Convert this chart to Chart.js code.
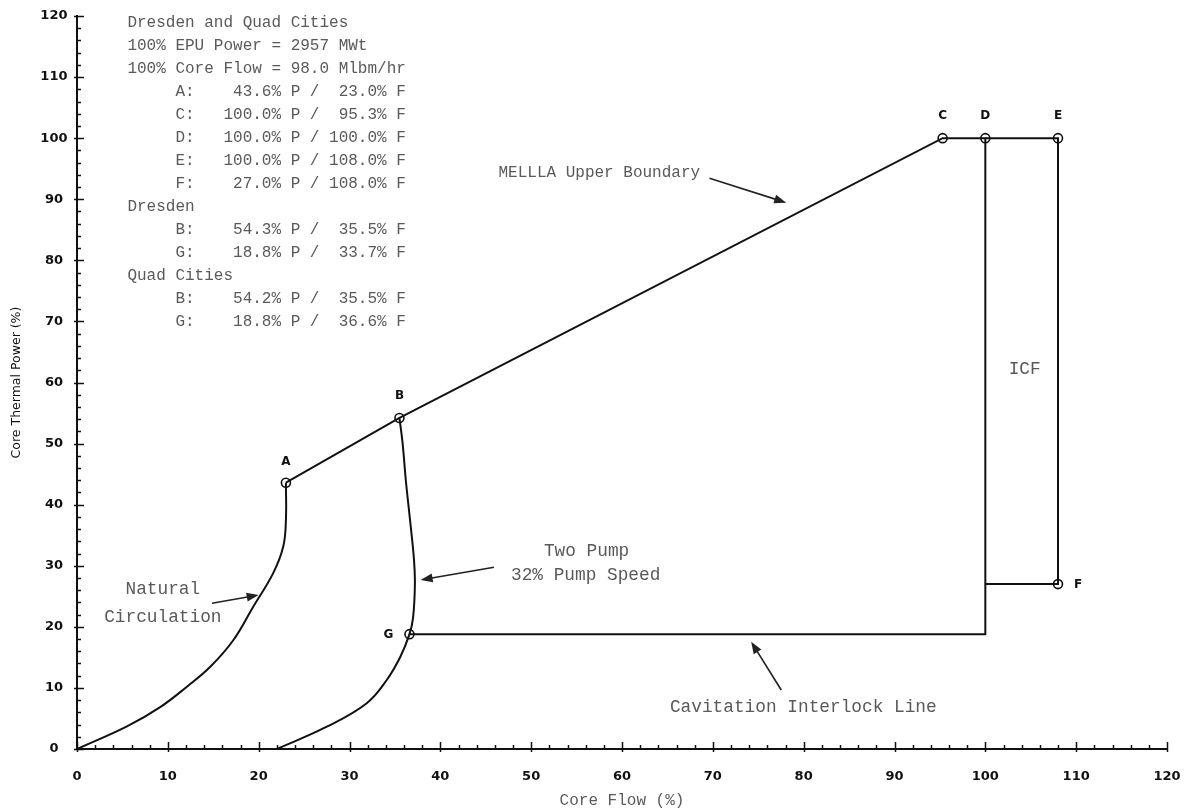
<!DOCTYPE html>
<html>
<head>
<meta charset="utf-8">
<script src="https://cdn.jsdelivr.net/npm/chart.js@4.4.1/dist/chart.umd.min.js"></script>
<style>
  html, body { margin: 0; padding: 0; background: #fff; }
  canvas { display: block; }
</style>
</head>
<body>
<canvas id="map" width="1192" height="812"></canvas>
<script>
// State points shared by both plants: core thermal power (%) and core flow (%)
const commonNames = ['A', 'C', 'D', 'E', 'F'];
const commonPower = [43.6, 100.0, 100.0, 100.0, 27.0];
const commonFlow = [23.0, 95.3, 100.0, 108.0, 108.0];

// Plant-specific state points
const dresdenNames = ['B', 'G'];
const dresdenPower = [54.3, 18.8];
const dresdenFlow = [35.5, 33.7];
const quadNames = ['B', 'G'];
const quadPower = [54.2, 18.8];
const quadFlow = [35.5, 36.6];

// Natural circulation curve from the origin toward point A
const ncFlow = [0, 5.5, 9.2, 12.1, 14.7, 17.2, 19.4, 21.6, 22.7, 23.0];
const ncPower = [0, 3.7, 6.9, 10.2, 13.5, 17.8, 23.3, 28.8, 33.1, 37.5];

// Two pump / 32% pump speed curve: below point G, then between G and B
const tpLowFlow = [22.0, 27.5, 31.9, 34.1, 35.6];
const tpLowPower = [0, 3.65, 7.5, 11.3, 15.1];
const tpHighFlow = [37.0, 37.2, 37.1, 36.7, 36.2, 35.85];
const tpHighPower = [21.5, 27.0, 31.0, 37.0, 44.0, 50.0];

// Axis tick labels
const flowTickLabels = [0, 10, 20, 30, 40, 50, 60, 70, 80, 90, 100, 110, 120];
const powerTickLabels = [0, 10, 20, 30, 40, 50, 60, 70, 80, 90, 100, 110, 120];

// Header text
const headerLines = ['Dresden and Quad Cities', '100% EPU Power = 2957 MWt', '100% Core Flow = 98.0 Mlbm/hr'];

// ---- helpers -------------------------------------------------------------
const pt = (names, power, flow, n) => {
  const i = names.indexOf(n);
  return { x: flow[i], y: power[i] };
};
const A = pt(commonNames, commonPower, commonFlow, 'A');
const C = pt(commonNames, commonPower, commonFlow, 'C');
const D = pt(commonNames, commonPower, commonFlow, 'D');
const E = pt(commonNames, commonPower, commonFlow, 'E');
const F = pt(commonNames, commonPower, commonFlow, 'F');
const B = pt(quadNames, quadPower, quadFlow, 'B');
const G = pt(quadNames, quadPower, quadFlow, 'G');

const zip = (xs, ys) => xs.map((v, i) => ({ x: v, y: ys[i] }));

const ncData = zip(ncFlow, ncPower).concat([A]);
const tpData = zip(tpLowFlow, tpLowPower).concat([G], zip(tpHighFlow, tpHighPower), [B]);
const boundaryData = [A, B, C, D, { x: D.x, y: G.y }, G];
const icfData = [D, E, F, { x: D.x, y: F.y }];

const markerNames = ['A', 'B', 'C', 'D', 'E', 'F', 'G'];
const markerData = [A, B, C, D, E, F, G];

const fmtRow = (n, p, f) =>
  '     ' + n + ':' + (p.toFixed(1) + '%').padStart(9) + ' P / ' + (f.toFixed(1) + '%').padStart(6) + ' F';

const textLines = headerLines.slice();
commonNames.forEach((n, i) => textLines.push(fmtRow(n, commonPower[i], commonFlow[i])));
textLines.push('Dresden');
dresdenNames.forEach((n, i) => textLines.push(fmtRow(n, dresdenPower[i], dresdenFlow[i])));
textLines.push('Quad Cities');
quadNames.forEach((n, i) => textLines.push(fmtRow(n, quadPower[i], quadFlow[i])));

// ---- layout of text and arrows (in axis units) ---------------------------
const textBlock = { x: 5.55, y: 118.97, step: 23, font: '16px "Liberation Mono"', color: '#5a5a5a' };
const notes = [
  { text: 'MELLLA Upper Boundary', x: 57.5, y: 94.35, size: 16 },
  { text: 'Two Pump', x: 56.1, y: 32.3, size: 17.8 },
  { text: '32% Pump Speed', x: 56.0, y: 28.5, size: 17.8 },
  { text: 'Natural', x: 9.45, y: 26.2, size: 17.8 },
  { text: 'Circulation', x: 9.45, y: 21.5, size: 17.8 },
  { text: 'Cavitation Interlock Line', x: 79.96, y: 6.83, size: 17.8 },
  { text: 'ICF', x: 104.33, y: 62.2, size: 17.8 }
];
const arrows = [
  { from: [69.63, 93.43], to: [78.08, 89.44] },
  { from: [45.91, 29.75], to: [37.83, 27.67] },
  { from: [77.53, 9.66], to: [74.22, 17.57] },
  { from: [14.86, 23.85], to: [20.0, 25.21] }
];
const labelOffsets = {
  A: [0, -21], B: [0, -22], C: [0, -22], D: [0, -22], E: [0, -22], F: [20, 1], G: [-21, 1]
};
const tickStyle = { majorIn: 7, majorOut: 3, minorIn: 4, width: 1.5, color: '#111' };

function drawArrow(ctx, x1, y1, x2, y2) {
  const a = Math.atan2(y2 - y1, x2 - x1);
  const L = 12, W = 4.5;
  ctx.beginPath();
  ctx.moveTo(x1, y1);
  ctx.lineTo(x2 - L * 0.7 * Math.cos(a), y2 - L * 0.7 * Math.sin(a));
  ctx.stroke();
  ctx.beginPath();
  ctx.moveTo(x2, y2);
  ctx.lineTo(x2 - L * Math.cos(a) + W * Math.sin(a), y2 - L * Math.sin(a) - W * Math.cos(a));
  ctx.lineTo(x2 - L * Math.cos(a) - W * Math.sin(a), y2 - L * Math.sin(a) + W * Math.cos(a));
  ctx.closePath();
  ctx.fill();
}

const overlay = {
  id: 'overlay',
  afterDraw(chart) {
    const { ctx, chartArea: area, scales: { x, y } } = chart;
    ctx.save();

    // inward tick marks on both axes
    ctx.strokeStyle = tickStyle.color;
    ctx.lineWidth = tickStyle.width;
    ctx.beginPath();
    y.ticks.forEach(t => {
      const v = Math.round(t.value);
      const py = Math.round(y.getPixelForValue(v)) + 0.5;
      const major = v % 10 === 0;
      ctx.moveTo(area.left - (major ? tickStyle.majorOut : 0), py);
      ctx.lineTo(area.left + (major ? tickStyle.majorIn : tickStyle.minorIn), py);
    });
    x.ticks.forEach(t => {
      const v = Math.round(t.value);
      const px = Math.round(x.getPixelForValue(v)) + 0.5;
      const major = v % 10 === 0;
      ctx.moveTo(px, area.bottom + (major ? tickStyle.majorOut : 0));
      ctx.lineTo(px, area.bottom - (major ? tickStyle.majorIn : tickStyle.minorIn));
    });
    ctx.stroke();

    // header / state point listing
    ctx.font = textBlock.font;
    ctx.fillStyle = textBlock.color;
    ctx.textAlign = 'left';
    ctx.textBaseline = 'middle';
    const tx = x.getPixelForValue(textBlock.x);
    const ty = y.getPixelForValue(textBlock.y);
    textLines.forEach((s, i) => ctx.fillText(s, tx, ty + i * textBlock.step));

    // curve annotations
    ctx.textAlign = 'center';
    notes.forEach(n => {
      ctx.font = n.size + 'px "Liberation Mono"';
      ctx.fillText(n.text, x.getPixelForValue(n.x), y.getPixelForValue(n.y));
    });

    ctx.strokeStyle = '#222';
    ctx.fillStyle = '#222';
    ctx.lineWidth = 1.6;
    arrows.forEach(a => drawArrow(ctx,
      x.getPixelForValue(a.from[0]), y.getPixelForValue(a.from[1]),
      x.getPixelForValue(a.to[0]), y.getPixelForValue(a.to[1])));

    // state point letters
    ctx.font = 'bold 12px "DejaVu Sans"';
    ctx.fillStyle = '#111';
    markerData.forEach((p, i) => {
      const n = markerNames[i];
      const off = labelOffsets[n];
      ctx.fillText(n, x.getPixelForValue(p.x) + off[0], y.getPixelForValue(p.y) + off[1]);
    });
    ctx.restore();
  }
};

const lineDs = (data, tension) => ({
  data, showLine: true, tension, pointRadius: 0, pointHoverRadius: 0,
  borderColor: '#111', borderWidth: 2, fill: false
});

new Chart(document.getElementById('map'), {
  type: 'scatter',
  data: {
    datasets: [
      lineDs(ncData, 0.4),
      lineDs(tpData, 0.4),
      lineDs(boundaryData, 0),
      lineDs(icfData, 0),
      {
        data: markerData, showLine: false, pointRadius: 4.5, pointHoverRadius: 4.5,
        pointBorderWidth: 1.6, pointBorderColor: '#111', pointBackgroundColor: 'rgba(0,0,0,0)'
      }
    ]
  },
  options: {
    responsive: false,
    animation: false,
    devicePixelRatio: 1,
    layout: { padding: { left: 6, top: 16, right: 25, bottom: 0 } },
    plugins: { legend: { display: false }, tooltip: { enabled: false } },
    events: [],
    scales: {
      x: {
        type: 'linear', min: 0, max: 120,
        afterFit: s => { s.height = 63; s.paddingLeft = 0; s.paddingRight = 0; },
        grid: { display: false, drawTicks: false },
        border: { display: true, color: '#111', width: 2 },
        ticks: {
          stepSize: 2, autoSkip: false, maxRotation: 0, padding: 20,
          color: '#111', font: { family: 'DejaVu Sans', size: 13, weight: 'bold' },
          callback: v => flowTickLabels.includes(Math.round(v)) ? String(Math.round(v)) : ''
        },
        title: {
          display: true, text: 'Core Flow (%)', color: '#5a5a5a',
          font: { family: 'Liberation Mono', size: 16 }, padding: { top: 2, bottom: 2 }
        }
      },
      y: {
        type: 'linear', min: 0, max: 120,
        afterFit: s => { s.width = 71; s.paddingTop = 0; s.paddingBottom = 0; },
        grid: { display: false, drawTicks: false },
        border: { display: true, color: '#111', width: 2 },
        ticks: {
          stepSize: 2, autoSkip: false, padding: 9.5, crossAlign: 'center',
          color: '#111', font: { family: 'DejaVu Sans', size: 13, weight: 'bold' },
          callback: v => powerTickLabels.includes(Math.round(v)) ? String(Math.round(v)) : ''
        },
        title: {
          display: true, text: 'Core Thermal Power (%)', color: '#111',
          font: { family: 'DejaVu Sans', size: 12.5 }, padding: { top: 3, bottom: 0 }
        }
      }
    }
  },
  plugins: [overlay]
});
</script>
</body>
</html>
